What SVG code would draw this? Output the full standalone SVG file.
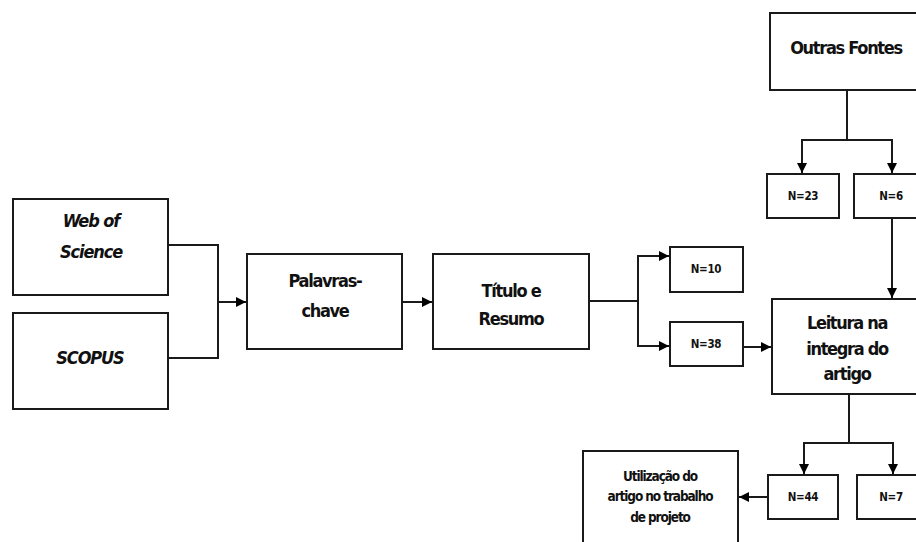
<svg xmlns="http://www.w3.org/2000/svg" width="916" height="542" viewBox="0 0 916 542">
<defs>
<marker id="ah" viewBox="0 0 10 10" refX="10" refY="5" markerWidth="10" markerHeight="10" markerUnits="userSpaceOnUse" orient="auto">
<path d="M0,0 L10,5 L0,10 z" fill="#000"/>
</marker>
<style>
.box{fill:#fff;stroke:#1a1a1a;stroke-width:2}
.ln{fill:none;stroke:#1a1a1a;stroke-width:2}
.t{font-family:"DejaVu Sans Condensed","Liberation Sans",sans-serif;font-size:18px;font-weight:bold;text-anchor:middle;fill:#111;letter-spacing:-1.3px}
.i{font-style:italic;letter-spacing:-1.1px}
.s{font-size:11.5px;letter-spacing:-0.3px}
.u{font-size:13.5px;letter-spacing:-1.1px}
</style>
</defs>
<rect width="916" height="542" fill="#fff"/>
<g id="connectors">
<polyline class="ln" points="168,245 218,245 218,358 168,358"/>
<line class="ln" x1="218" y1="302" x2="246" y2="302" marker-end="url(#ah)"/>
<line class="ln" x1="402" y1="302" x2="432" y2="302" marker-end="url(#ah)"/>
<polyline class="ln" points="589,301 638,301"/>
<polyline class="ln" points="669,256 638,256 638,346 669,346" marker-end="url(#ah)"/>
<line class="ln" x1="638" y1="256" x2="669" y2="256" marker-end="url(#ah)"/>
<line class="ln" x1="743" y1="347" x2="771" y2="347" marker-end="url(#ah)"/>
<line class="ln" x1="847" y1="90" x2="847" y2="140"/>
<polyline class="ln" points="802,173 802,140 892,140 892,173" marker-end="url(#ah)"/>
<line class="ln" x1="802" y1="140" x2="802" y2="173" marker-end="url(#ah)"/>
<line class="ln" x1="892" y1="218" x2="892" y2="298" marker-end="url(#ah)"/>
<line class="ln" x1="849" y1="394" x2="849" y2="443"/>
<polyline class="ln" points="804,474 804,443 893,443 893,474" marker-end="url(#ah)"/>
<line class="ln" x1="804" y1="443" x2="804" y2="474" marker-end="url(#ah)"/>
<line class="ln" x1="768" y1="497" x2="739" y2="497" marker-end="url(#ah)"/>
</g>
<g id="web-of-science">
<rect class="box" x="13" y="199" width="155" height="96"/>
<text class="t i" x="91" y="227">Web of</text>
<text class="t i" x="91" y="258">Science</text>
</g>
<g id="scopus">
<rect class="box" x="13" y="313" width="155" height="96"/>
<text class="t i" x="90" y="364">SCOPUS</text>
</g>
<g id="palavras-chave">
<rect class="box" x="247" y="254" width="155" height="95"/>
<text class="t" x="325" y="287">Palavras-</text>
<text class="t" x="325" y="317">chave</text>
</g>
<g id="titulo-resumo">
<rect class="box" x="433" y="254" width="156" height="95"/>
<text class="t" x="511" y="297">Título e</text>
<text class="t" x="511" y="325">Resumo</text>
</g>
<g id="n10">
<rect class="box" x="670" y="247" width="73" height="45"/>
<text class="t s" x="706" y="273">N=10</text>
</g>
<g id="n38">
<rect class="box" x="670" y="322" width="73" height="44"/>
<text class="t s" x="706" y="348">N=38</text>
</g>
<g id="outras-fontes">
<rect class="box" x="770" y="13" width="160" height="77"/>
<text class="t" x="846" y="54">Outras Fontes</text>
</g>
<g id="n23">
<rect class="box" x="767" y="174" width="72" height="44"/>
<text class="t s" x="803" y="200">N=23</text>
</g>
<g id="n6">
<rect class="box" x="854" y="174" width="76" height="44"/>
<text class="t s" x="891" y="200">N=6</text>
</g>
<g id="leitura">
<rect class="box" x="772" y="299" width="158" height="95"/>
<text class="t" x="847" y="329">Leitura na</text>
<text class="t" x="847" y="355">integra do</text>
<text class="t" x="847" y="380">artigo</text>
</g>
<g id="n44">
<rect class="box" x="768" y="475" width="70" height="44"/>
<text class="t s" x="803" y="501">N=44</text>
</g>
<g id="n7">
<rect class="box" x="857" y="475" width="73" height="44"/>
<text class="t s" x="891" y="501">N=7</text>
</g>
<g id="utilizacao">
<rect class="box" x="583" y="451" width="155" height="100"/>
<text class="t u" x="660" y="481">Utilização do</text>
<text class="t u" x="660" y="501">artigo no trabalho</text>
<text class="t u" x="660" y="522">de projeto</text>
</g>
</svg>
